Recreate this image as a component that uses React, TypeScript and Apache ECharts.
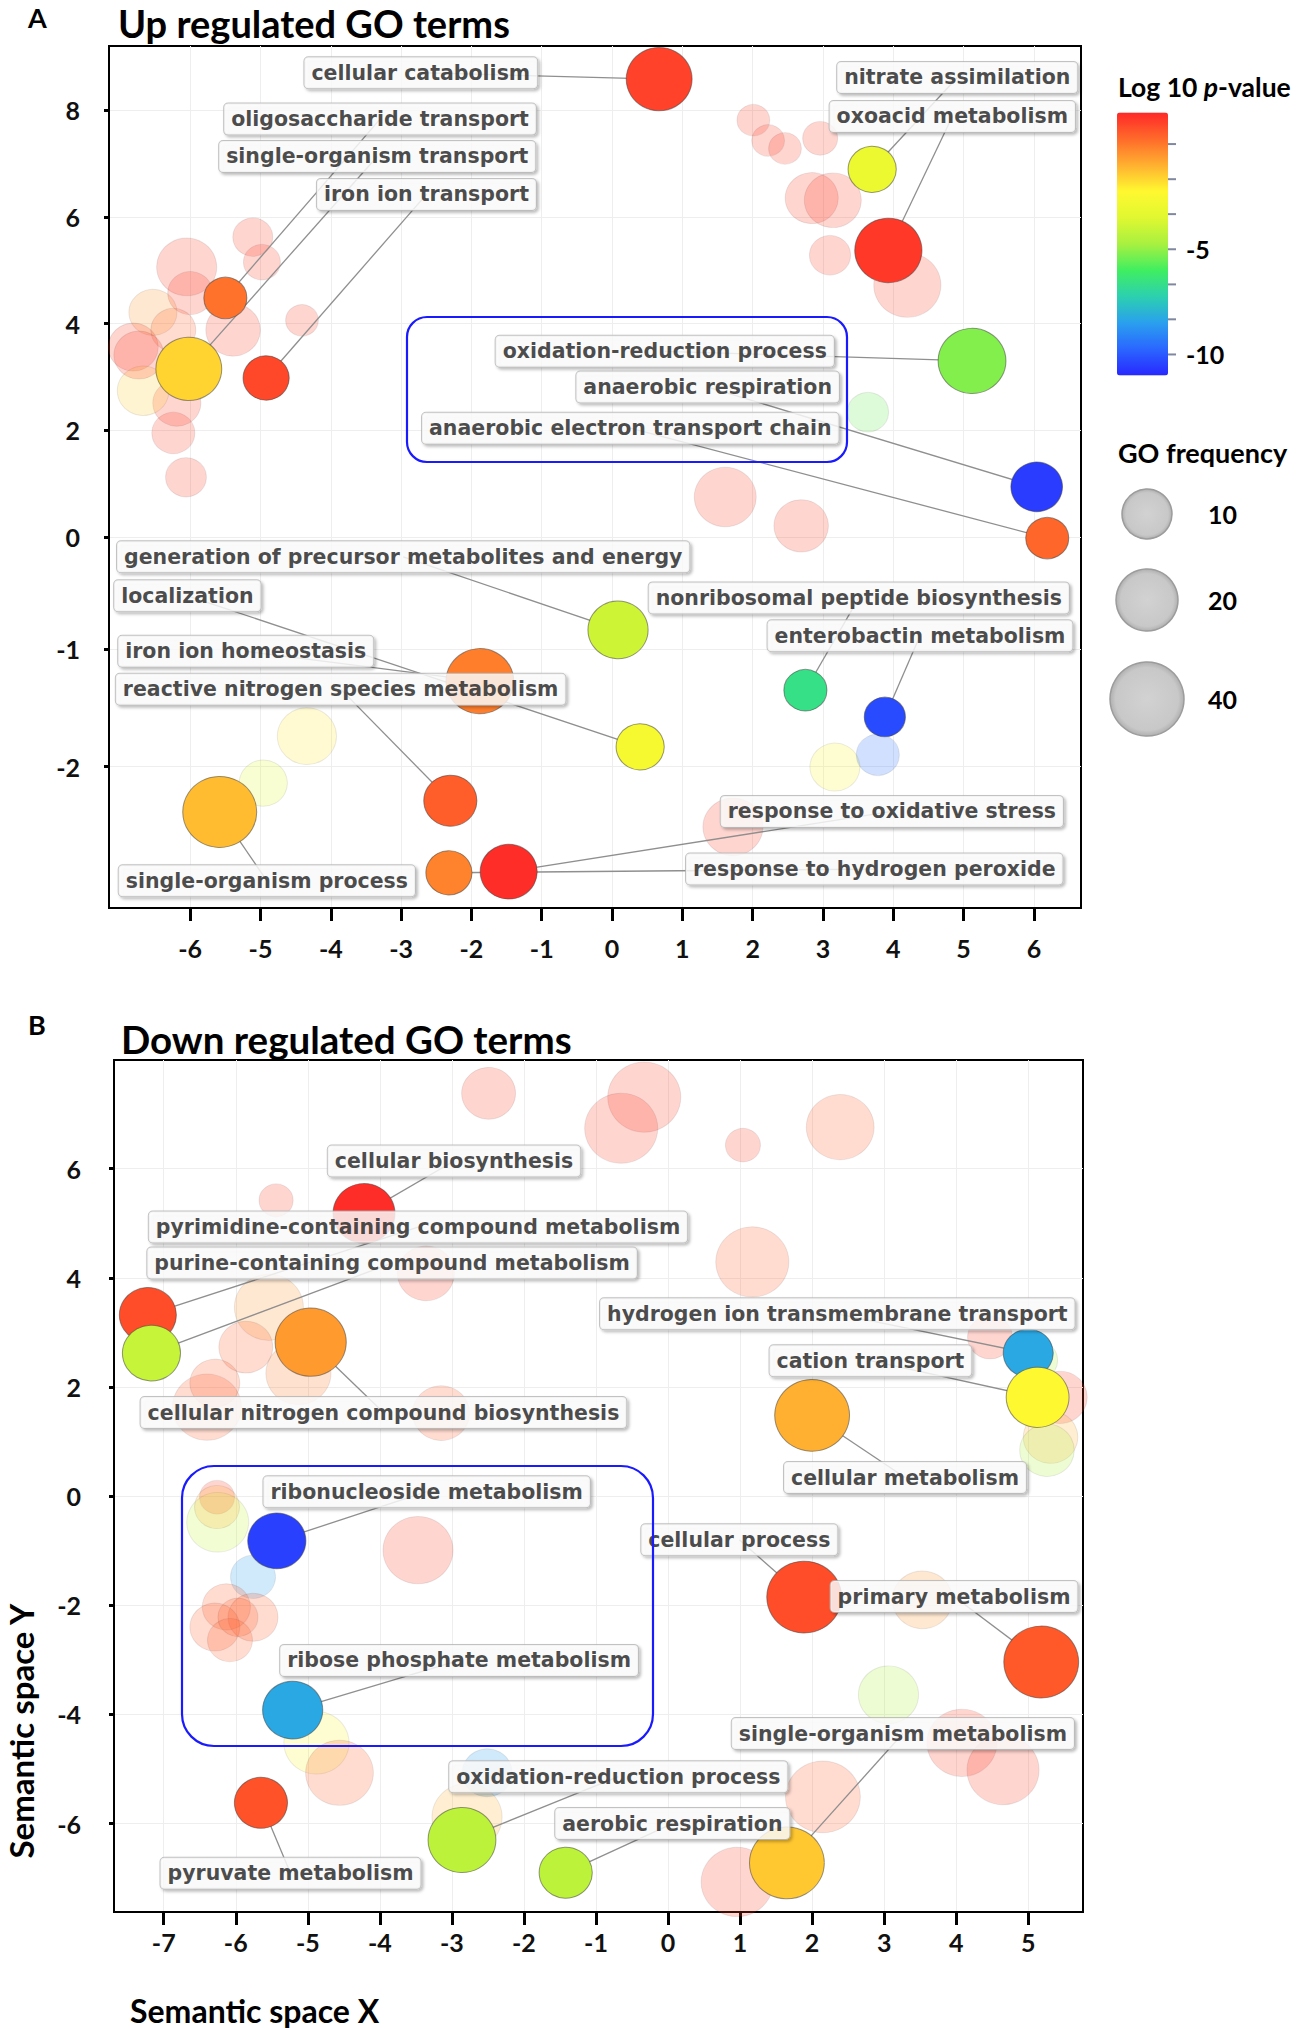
import React, { useEffect, useRef } from 'react';
import * as echarts from 'echarts';

// ---------- tick labels ----------
const upXTicks = [-6, -5, -4, -3, -2, -1, 0, 1, 2, 3, 4, 5, 6];
const upYTickPos = [8, 6, 4, 2, 0, -2.1, -4.3];
const upYTickLabels = ['8', '6', '4', '2', '0', '-1', '-2'];
const downXTicks = [-7, -6, -5, -4, -3, -2, -1, 0, 1, 2, 3, 4, 5];
const downYTicks = [6, 4, 2, 0, -2, -4, -6];

// colour scale (log10 p-value) and its ticks
const colorMin = -11;
const colorMax = 1.5;
const colorTicks = [0, -1.67, -3.33, -5, -6.67, -8.33, -10];
const colorTickLabels = ['', '', '', '-5', '', '', '-10'];
// GO frequency legend
const sizeLegend = [10, 20, 40];

// ---------- Up regulated (panel A) ----------
// [term, x, y, GO frequency, log10 p-value, label x, label y]
type Term = [string, number, number, number, number, number, number];
const upTerms: Term[] = [
  ['cellular catabolism', 0.67, 8.58, 25, 1.0, -2.72, 8.7],
  ['oligosaccharide transport', -5.5, 4.48, 6.7, 0.1, -3.3, 7.83],
  ['single-organism transport', -6.02, 3.15, 25, -1.6, -3.34, 7.13],
  ['iron ion transport', -4.92, 2.98, 8, 0.9, -2.64, 6.42],
  ['nitrate assimilation', 3.7, 6.89, 9, -3.0, 4.91, 8.61],
  ['oxoacid metabolism', 3.93, 5.37, 27, 1.2, 4.84, 7.88],
  ['oxidation-reduction process', 5.12, 3.3, 28, -5.2, 0.75, 3.48],
  ['anaerobic respiration', 6.04, 0.94, 11, -10.6, 1.36, 2.81],
  ['anaerobic electron transport chain', 6.19, -0.02, 6.7, 0.3, 0.26, 2.04],
  ['generation of precursor metabolites and energy', 0.085, -1.74, 18, -3.9, -2.97, -0.37],
  ['localization', 0.4, -3.93, 9, -2.6, -6.04, -1.1],
  ['iron ion homeostasis', -1.88, -2.7, 28, -0.1, -5.21, -2.14],
  ['reactive nitrogen species metabolism', -2.3, -4.94, 12, 0.5, -3.86, -2.85],
  ['nonribosomal peptide biosynthesis', 2.75, -2.87, 6.7, -6.6, 3.51, -1.14],
  ['enterobactin metabolism', 3.88, -3.37, 6, -10.3, 4.38, -1.85],
  ['single-organism process', -5.58, -5.15, 40, -1.2, -4.91, -6.44],
  ['response to hydrogen peroxide', -2.32, -6.29, 8, -0.2, 3.73, -6.22],
  ['response to oxidative stress', -1.47, -6.27, 15, 1.4, 3.98, -5.14],
];
// [x, y, GO frequency, log10 p-value]
const upBackground: number[][] = [
  [2.01, 7.81, 3.7, 1.0], [2.22, 7.43, 3.7, 1.0], [2.46, 7.28, 3.7, 1.0], [2.96, 7.47, 4.2, 1.0],
  [2.84, 6.35, 12, 1.0], [3.14, 6.31, 15, 1.0], [3.1, 5.28, 6, 1.0], [4.2, 4.72, 27, 1.0],
  [3.64, 2.34, 6, -5.5], [1.61, 0.75, 20, 1.0], [2.69, 0.21, 13, 1.0], [1.72, -5.43, 18, 1.0],
  [3.17, -4.31, 10, -2.5], [3.78, -4.08, 6.7, -9.5], [-4.34, -3.73, 17, -2.0], [-4.96, -4.61, 9, -3.5],
  [-5.11, 5.62, 5.6, 1.0], [-4.98, 5.15, 4.7, 1.0], [-6.05, 5.06, 18, 1.0], [-4.41, 4.06, 3.7, 1.0],
  [-6.53, 4.21, 9, -0.5], [-5.39, 3.88, 13, 1.0], [-6.81, 3.56, 10, 1.0], [-6.0, 4.57, 7.5, 1.0],
  [-6.24, 3.88, 7.5, 0.5], [-6.06, 1.12, 5.9, 1.0], [-6.24, 1.95, 6.7, 1.0], [-6.19, 2.51, 9, 1.0],
  [-6.67, 2.74, 11, -1.5], [-6.73, 3.41, 10, 1.0],
];

// ---------- Down regulated (panel B) ----------
const downTerms: Term[] = [
  ['cellular biosynthesis', -4.22, 5.18, 20, 1.4, -2.97, 6.14],
  ['pyrimidine-containing compound metabolism', -7.22, 3.32, 15, 0.8, -3.47, 4.93],
  ['purine-containing compound metabolism', -7.17, 2.62, 16, -4.1, -3.83, 4.27],
  ['cellular nitrogen compound biosynthesis', -4.96, 2.82, 34, -0.6, -3.95, 1.53],
  ['hydrogen ion transmembrane transport', 5.0, 2.62, 10, -8.3, 2.35, 3.34],
  ['cation transport', 5.13, 1.81, 21, -2.3, 2.81, 2.48],
  ['cellular metabolism', 2.0, 1.48, 42, -1.0, 3.29, 0.34],
  ['ribonucleoside metabolism', -5.43, -0.82, 16, -10.5, -3.35, 0.08],
  ['ribose phosphate metabolism', -5.21, -3.92, 18, -8.3, -2.9, -3.01],
  ['cellular process', 1.89, -1.85, 42, 0.8, 0.99, -0.8],
  ['primary metabolism', 5.18, -3.04, 42, 0.6, 3.97, -1.84],
  ['single-organism metabolism', 1.65, -6.72, 42, -1.4, 3.26, -4.35],
  ['oxidation-reduction process', -2.86, -6.3, 28, -4.3, -0.69, -5.14],
  ['aerobic respiration', -1.42, -6.9, 12, -4.3, 0.06, -6.0],
  ['pyruvate metabolism', -5.65, -5.62, 12, 0.7, -5.24, -6.91],
];
const downBackground: number[][] = [
  [-2.49, 7.38, 12.6, 1.0], [-0.33, 7.31, 38, 1.0], [-0.65, 6.74, 38, 1.0], [-5.44, 5.42, 4, 1.0],
  [-3.36, 4.08, 15, 1.0], [-5.54, 3.46, 30, -0.5], [-5.86, 2.73, 12.6, 0.5], [-5.13, 2.25, 24, 0],
  [-6.4, 1.63, 30, 0.5], [-6.29, 2.07, 10, 0.5], [-3.15, 1.52, 15, 0.5], [2.39, 6.76, 28, 0.5],
  [1.04, 6.43, 4.2, 1.0], [1.17, 4.29, 38, 0.5], [4.47, 2.91, 7.5, 1.0], [5.44, 1.81, 13, 1.0],
  [5.31, 1.08, 13, -1.0], [5.26, 0.84, 13, -4.5], [5.13, 2.49, 5.6, -4.5], [-6.26, -0.02, 4.2, 1.0],
  [-6.25, -0.48, 20, -4.0], [-6.26, -0.2, 7.5, -1.0], [-5.76, -1.48, 7.5, -8.5], [-3.47, -0.99, 32, 1.0],
  [-6.13, -2.03, 9, 0.5], [-5.76, -2.22, 10, 0.5], [-6.29, -2.4, 10, 0.5], [-6.08, -2.64, 7.5, 0.5],
  [-5.97, -2.22, 5.6, 0.5], [-4.88, -4.52, 24, -2.5], [-4.56, -5.07, 28, 0.5], [-2.51, -5.07, 10, -8.5],
  [-2.79, -5.88, 32, -1.0], [3.53, -1.9, 18, -0.5], [3.06, -3.64, 18, -4.5], [4.08, -4.52, 32, 1.0],
  [4.65, -5.02, 36, 1.0], [2.15, -5.51, 42, 0.5], [0.96, -7.07, 36, 1.0],
];

// ---------- layout / style ----------
const LABEL_FONT = 'DejaVu Sans';
const AXIS_FONT = 'Lato';
const gridA = { left: 109, top: 46, width: 972, height: 862 };
const gridB = { left: 114, top: 1060, width: 969, height: 852 };
const cbar = { left: 1117, top: 112.5, width: 51, height: 263 };
const rampColors = [
  '#2828ff', '#2a66ff', '#2aa0ee', '#2cd0b0', '#40ee60', '#a8f040',
  '#e0f830', '#fff830', '#ffb030', '#ff6a2a', '#ff2828',
];

function sizeOf(freq: number) {
  return 50 + 12 * Math.log2(freq / 10);
}

function axisLabelStyle(extra: any) {
  return {
    fontFamily: AXIS_FONT,
    fontWeight: 'bold',
    fontSize: 25,
    color: '#111',
    ...extra,
  };
}

function panelSeries(terms: Term[], background: number[][], axisIndex: number) {
  return [
    {
      type: 'scatter',
      xAxisIndex: axisIndex,
      yAxisIndex: axisIndex,
      data: background,
      symbolSize: (d: number[]) => {
        const s = sizeOf(d[2]);
        return [s, s * 0.96];
      },
      itemStyle: { opacity: 0.22, borderColor: 'rgba(0,0,0,0.35)', borderWidth: 1 },
      z: 2,
      silent: true,
      emphasis: { disabled: true },
    },
    {
      type: 'lines',
      coordinateSystem: 'cartesian2d',
      xAxisIndex: axisIndex,
      yAxisIndex: axisIndex,
      data: terms.map((t) => ({ coords: [[t[1], t[2]], [t[5], t[6]]] })),
      lineStyle: { color: '#8f8f8f', width: 1.3, opacity: 1 },
      z: 3,
      silent: true,
    },
    {
      type: 'scatter',
      xAxisIndex: axisIndex,
      yAxisIndex: axisIndex,
      data: terms.map((t) => [t[1], t[2], t[3], t[4]]),
      symbolSize: (d: number[]) => {
        const s = sizeOf(d[2]);
        return [s, s * 0.96];
      },
      itemStyle: { opacity: 1, borderColor: 'rgba(70,70,70,0.55)', borderWidth: 1 },
      z: 4,
      silent: true,
      emphasis: { disabled: true },
    },
    {
      type: 'scatter',
      xAxisIndex: axisIndex,
      yAxisIndex: axisIndex,
      data: terms.map((t) => ({ name: t[0], value: [t[5], t[6]] })),
      symbolSize: 1,
      itemStyle: { color: 'rgba(0,0,0,0)' },
      z: 6,
      silent: true,
      emphasis: { disabled: true },
      label: {
        show: true,
        position: 'inside',
        formatter: '{b}',
        fontFamily: LABEL_FONT,
        fontWeight: 'bold',
        fontSize: 20.5,
        color: '#1c1c1c',
        backgroundColor: '#ffffff',
        borderColor: '#b4b4b4',
        borderWidth: 1,
        borderRadius: 4,
        padding: [5, 7],
        shadowColor: 'rgba(0,0,0,0.3)',
        shadowBlur: 3,
        shadowOffsetX: 2,
        shadowOffsetY: 2,
      },
    },
  ];
}

function valueAxis(gridIndex: number, min: number, max: number, ticks: number[], isX: boolean, margin: number, formatter?: (v: number) => string) {
  return {
    type: 'value',
    gridIndex,
    min,
    max,
    axisLine: { show: true, onZero: false, lineStyle: { color: '#000', width: 2 } },
    axisTick: {
      show: true,
      customValues: ticks,
      length: isX ? 13 : 5,
      lineStyle: { color: '#000', width: 3 },
    },
    axisLabel: axisLabelStyle({
      customValues: ticks,
      margin,
      formatter: formatter || ((v: number) => String(v)),
    }),
    splitLine: { show: true, lineStyle: { color: '#eeeeee', width: 1 } },
  };
}

export default function App() {
  const ref = useRef<HTMLDivElement>(null);

  useEffect(() => {
    document.body.style.margin = '0';
    document.body.style.overflow = 'hidden';
    if (!ref.current) return;
    const chart = echarts.init(ref.current, null, { renderer: 'svg' });

    const cbY = (v: number) => cbar.top + ((colorMax - v) / (colorMax - colorMin)) * cbar.height;
    const legendY = [514, 600, 699];

    const graphic: any[] = [
      { type: 'text', x: 28, y: 17, style: { text: 'A', font: `bold 27px ${AXIS_FONT}`, fill: '#000', textVerticalAlign: 'middle' } },
      { type: 'text', x: 118, y: 23, style: { text: 'Up regulated GO terms', font: `bold 38px ${AXIS_FONT}`, fill: '#000', textVerticalAlign: 'middle' } },
      { type: 'text', x: 28, y: 1024, style: { text: 'B', font: `bold 27px ${AXIS_FONT}`, fill: '#000', textVerticalAlign: 'middle' } },
      { type: 'text', x: 121, y: 1039, style: { text: 'Down regulated GO terms', font: `bold 38.5px ${AXIS_FONT}`, fill: '#000', textVerticalAlign: 'middle' } },
      { type: 'text', x: 130, y: 2010, style: { text: 'Semantic space X', font: `bold 32px ${AXIS_FONT}`, fill: '#000', textVerticalAlign: 'middle' } },
      {
        type: 'text', x: 21, y: 1731, rotation: Math.PI / 2,
        style: { text: 'Semantic space Y', font: `bold 33px ${AXIS_FONT}`, fill: '#000', textAlign: 'center', textVerticalAlign: 'middle' },
      },
      {
        type: 'text', x: 1118, y: 87,
        style: {
          text: '{b|Log 10 }{i|p}{b|-value}',
          textVerticalAlign: 'middle',
          rich: {
            b: { fontFamily: AXIS_FONT, fontWeight: 'bold', fontSize: 26.5, fill: '#000' },
            i: { fontFamily: AXIS_FONT, fontWeight: 'bold', fontStyle: 'italic', fontSize: 26.5, fill: '#000' },
          },
        },
      },
      { type: 'text', x: 1118, y: 452, style: { text: 'GO frequency', font: `bold 27px ${AXIS_FONT}`, fill: '#000', textVerticalAlign: 'middle' } },
      {
        type: 'rect', z: 50,
        shape: { x: 407, y: 317, width: 440, height: 145, r: 20 },
        style: { fill: 'none', stroke: '#1a1aff', lineWidth: 2.2 },
      },
      {
        type: 'rect', z: 50,
        shape: { x: 182, y: 1466, width: 471, height: 280, r: 32 },
        style: { fill: 'none', stroke: '#1a1aff', lineWidth: 2.2 },
      },
    ];
    colorTicks.forEach((v, i) => {
      const y = cbY(v);
      graphic.push({
        type: 'line',
        shape: { x1: cbar.left + cbar.width, y1: y, x2: cbar.left + cbar.width + 8, y2: y },
        style: { stroke: '#8088a0', lineWidth: 2 },
      });
      if (colorTickLabels[i]) {
        graphic.push({
          type: 'text', x: 1186, y,
          style: { text: colorTickLabels[i], font: `bold 25px ${AXIS_FONT}`, fill: '#000', textVerticalAlign: 'middle' },
        });
      }
    });
    sizeLegend.forEach((f, i) => {
      graphic.push({
        type: 'circle',
        shape: { cx: 1147, cy: legendY[i], r: sizeOf(f) / 2 },
        style: {
          fill: new echarts.graphic.RadialGradient(0.5, 0.5, 0.5, [
            { offset: 0, color: '#d2d2d2' },
            { offset: 0.85, color: '#c8c8c8' },
            { offset: 1, color: '#b0b0b0' },
          ]),
          stroke: '#9c9c9c',
          lineWidth: 1.5,
        },
      });
      graphic.push({
        type: 'text', x: 1208, y: legendY[i],
        style: { text: String(f), font: `bold 25px ${AXIS_FONT}`, fill: '#000', textVerticalAlign: 'middle' },
      });
    });

    const option: any = {
      animation: false,
      backgroundColor: '#ffffff',
      grid: [
        { ...gridA, show: true, borderColor: '#000', borderWidth: 2, backgroundColor: '#fff' },
        { ...gridB, show: true, borderColor: '#000', borderWidth: 2, backgroundColor: '#fff' },
      ],
      xAxis: [
        valueAxis(0, -7.155, 6.67, upXTicks, true, 27),
        valueAxis(1, -7.69, 5.76, downXTicks, true, 17),
      ],
      yAxis: [
        valueAxis(0, -6.95, 9.2, upYTickPos, false, 29, (v: number) => {
          const i = upYTickPos.findIndex((p) => Math.abs(p - v) < 1e-6);
          return i >= 0 ? upYTickLabels[i] : '';
        }),
        valueAxis(1, -7.62, 7.99, downYTicks, false, 33),
      ],
      visualMap: {
        type: 'continuous',
        min: colorMin,
        max: colorMax,
        dimension: 3,
        seriesIndex: [0, 2, 4, 6],
        left: cbar.left,
        top: cbar.top,
        itemWidth: cbar.width,
        itemHeight: cbar.height,
        padding: 0,
        calculable: false,
        hoverLink: false,
        inRange: { color: rampColors },
      },
      graphic,
      series: [
        ...panelSeries(upTerms, upBackground, 0),
        ...panelSeries(downTerms, downBackground, 1),
      ],
    };
    chart.setOption(option);
    return () => chart.dispose();
  }, []);

  return <div ref={ref} style={{ width: 1299, height: 2028 }} />;
}
